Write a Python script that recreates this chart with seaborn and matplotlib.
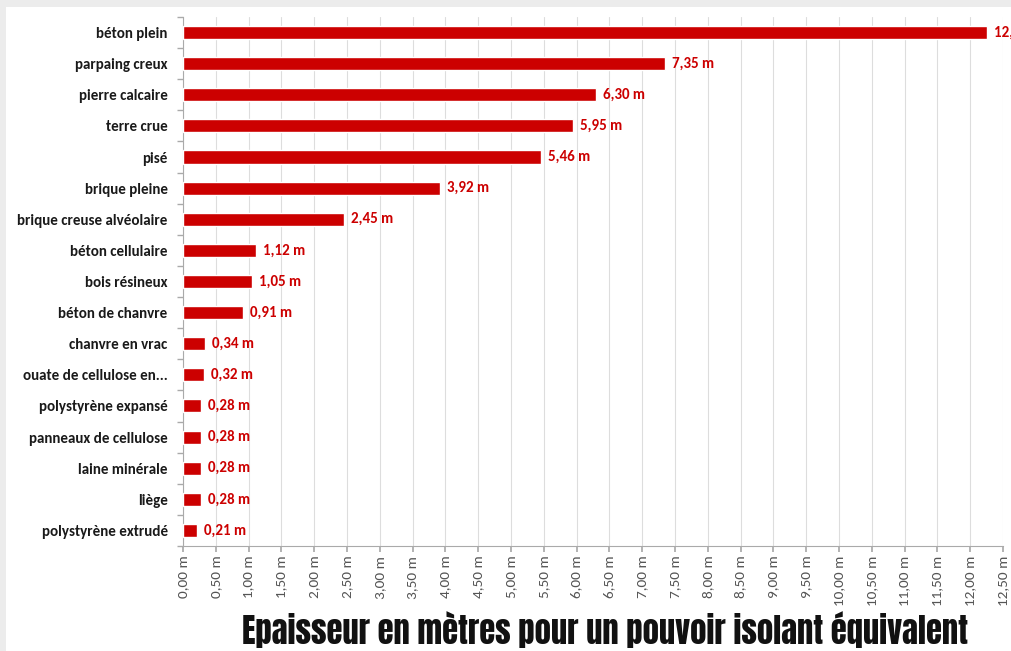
import numpy as np
import pandas as pd
import seaborn as sns
import matplotlib.pyplot as plt
from matplotlib.patches import Rectangle

sns.set_theme(style="white")
plt.rcParams["font.family"] = ["Carlito", "DejaVu Sans"]

materials = [
    "béton plein", "parpaing creux", "pierre calcaire", "terre crue", "pisé",
    "brique pleine", "brique creuse alvéolaire", "béton cellulaire", "bois résineux",
    "béton de chanvre", "chanvre en vrac", "ouate de cellulose en...",
    "polystyrène expansé", "panneaux de cellulose", "laine minérale", "liège",
    "polystyrène extrudé",
]
thickness_m = [12.25, 7.35, 6.30, 5.95, 5.46, 3.92, 2.45, 1.12, 1.05, 0.91,
               0.34, 0.32, 0.28, 0.28, 0.28, 0.28, 0.21]
x_ticks = np.arange(0, 12.51, 0.5)

df = pd.DataFrame({"materiau": materials, "epaisseur": thickness_m})

fig = plt.figure(figsize=(10.12, 6.51), dpi=100, facecolor="#ececec")
fig.patches.append(Rectangle((0.006, 0), 0.994, 0.99, transform=fig.transFigure,
                             facecolor="white", edgecolor="none", zorder=-10))
ax = fig.add_axes([0.1808, 0.1613, 0.8103, 0.8126])
ax.set_facecolor("white")

sns.barplot(data=df, x="epaisseur", y="materiau", orient="h", color="#cc0000",
            saturation=1, width=0.42, ax=ax, zorder=3)

for p, v in zip(ax.patches, thickness_m):
    ax.annotate(f"{v:.2f} m".replace(".", ","),
                (p.get_x() + p.get_width(), p.get_y() + p.get_height() / 2),
                xytext=(5, 0), textcoords="offset points", ha="left", va="center",
                fontsize=10.8, fontweight="bold", color="#cc0000", annotation_clip=False)

ax.set_xlim(0, 12.5)
ax.set_ylim(16.5, -0.5)
ax.set_xticks(x_ticks)
ax.set_xticklabels([f"{t:.2f} m".replace(".", ",") for t in x_ticks],
                   rotation=90, fontsize=11, color="#555555")
ax.set_yticks(range(len(materials)))
ax.set_yticklabels(materials, fontsize=10.8, fontweight="bold", color="#1a1a1a")
ax.set_yticks(np.arange(-0.5, len(materials), 1), minor=True)
ax.tick_params(axis="y", which="major", length=0, pad=11)
ax.tick_params(axis="y", which="minor", length=4, color="#aaaaaa", left=True)
ax.tick_params(axis="x", which="major", length=4, color="#aaaaaa", bottom=True, pad=3)
ax.grid(axis="x", color="#dddddd", linewidth=0.8, zorder=0)
ax.set_axisbelow(True)
for s in ["top", "right"]:
    ax.spines[s].set_visible(False)
for s in ["left", "bottom"]:
    ax.spines[s].set_color("#aaaaaa")
    ax.spines[s].set_linewidth(0.8)
ax.set_xlabel("")
ax.set_ylabel("")

fig.text(0.598, 0.004, "Epaisseur en mètres pour un pouvoir isolant équivalent",
         ha="center", va="bottom", fontsize=23.5,
         family=["Anton", "DejaVu Sans"], color="#111111")

fig.savefig("out.png", dpi=100, facecolor=fig.get_facecolor())
